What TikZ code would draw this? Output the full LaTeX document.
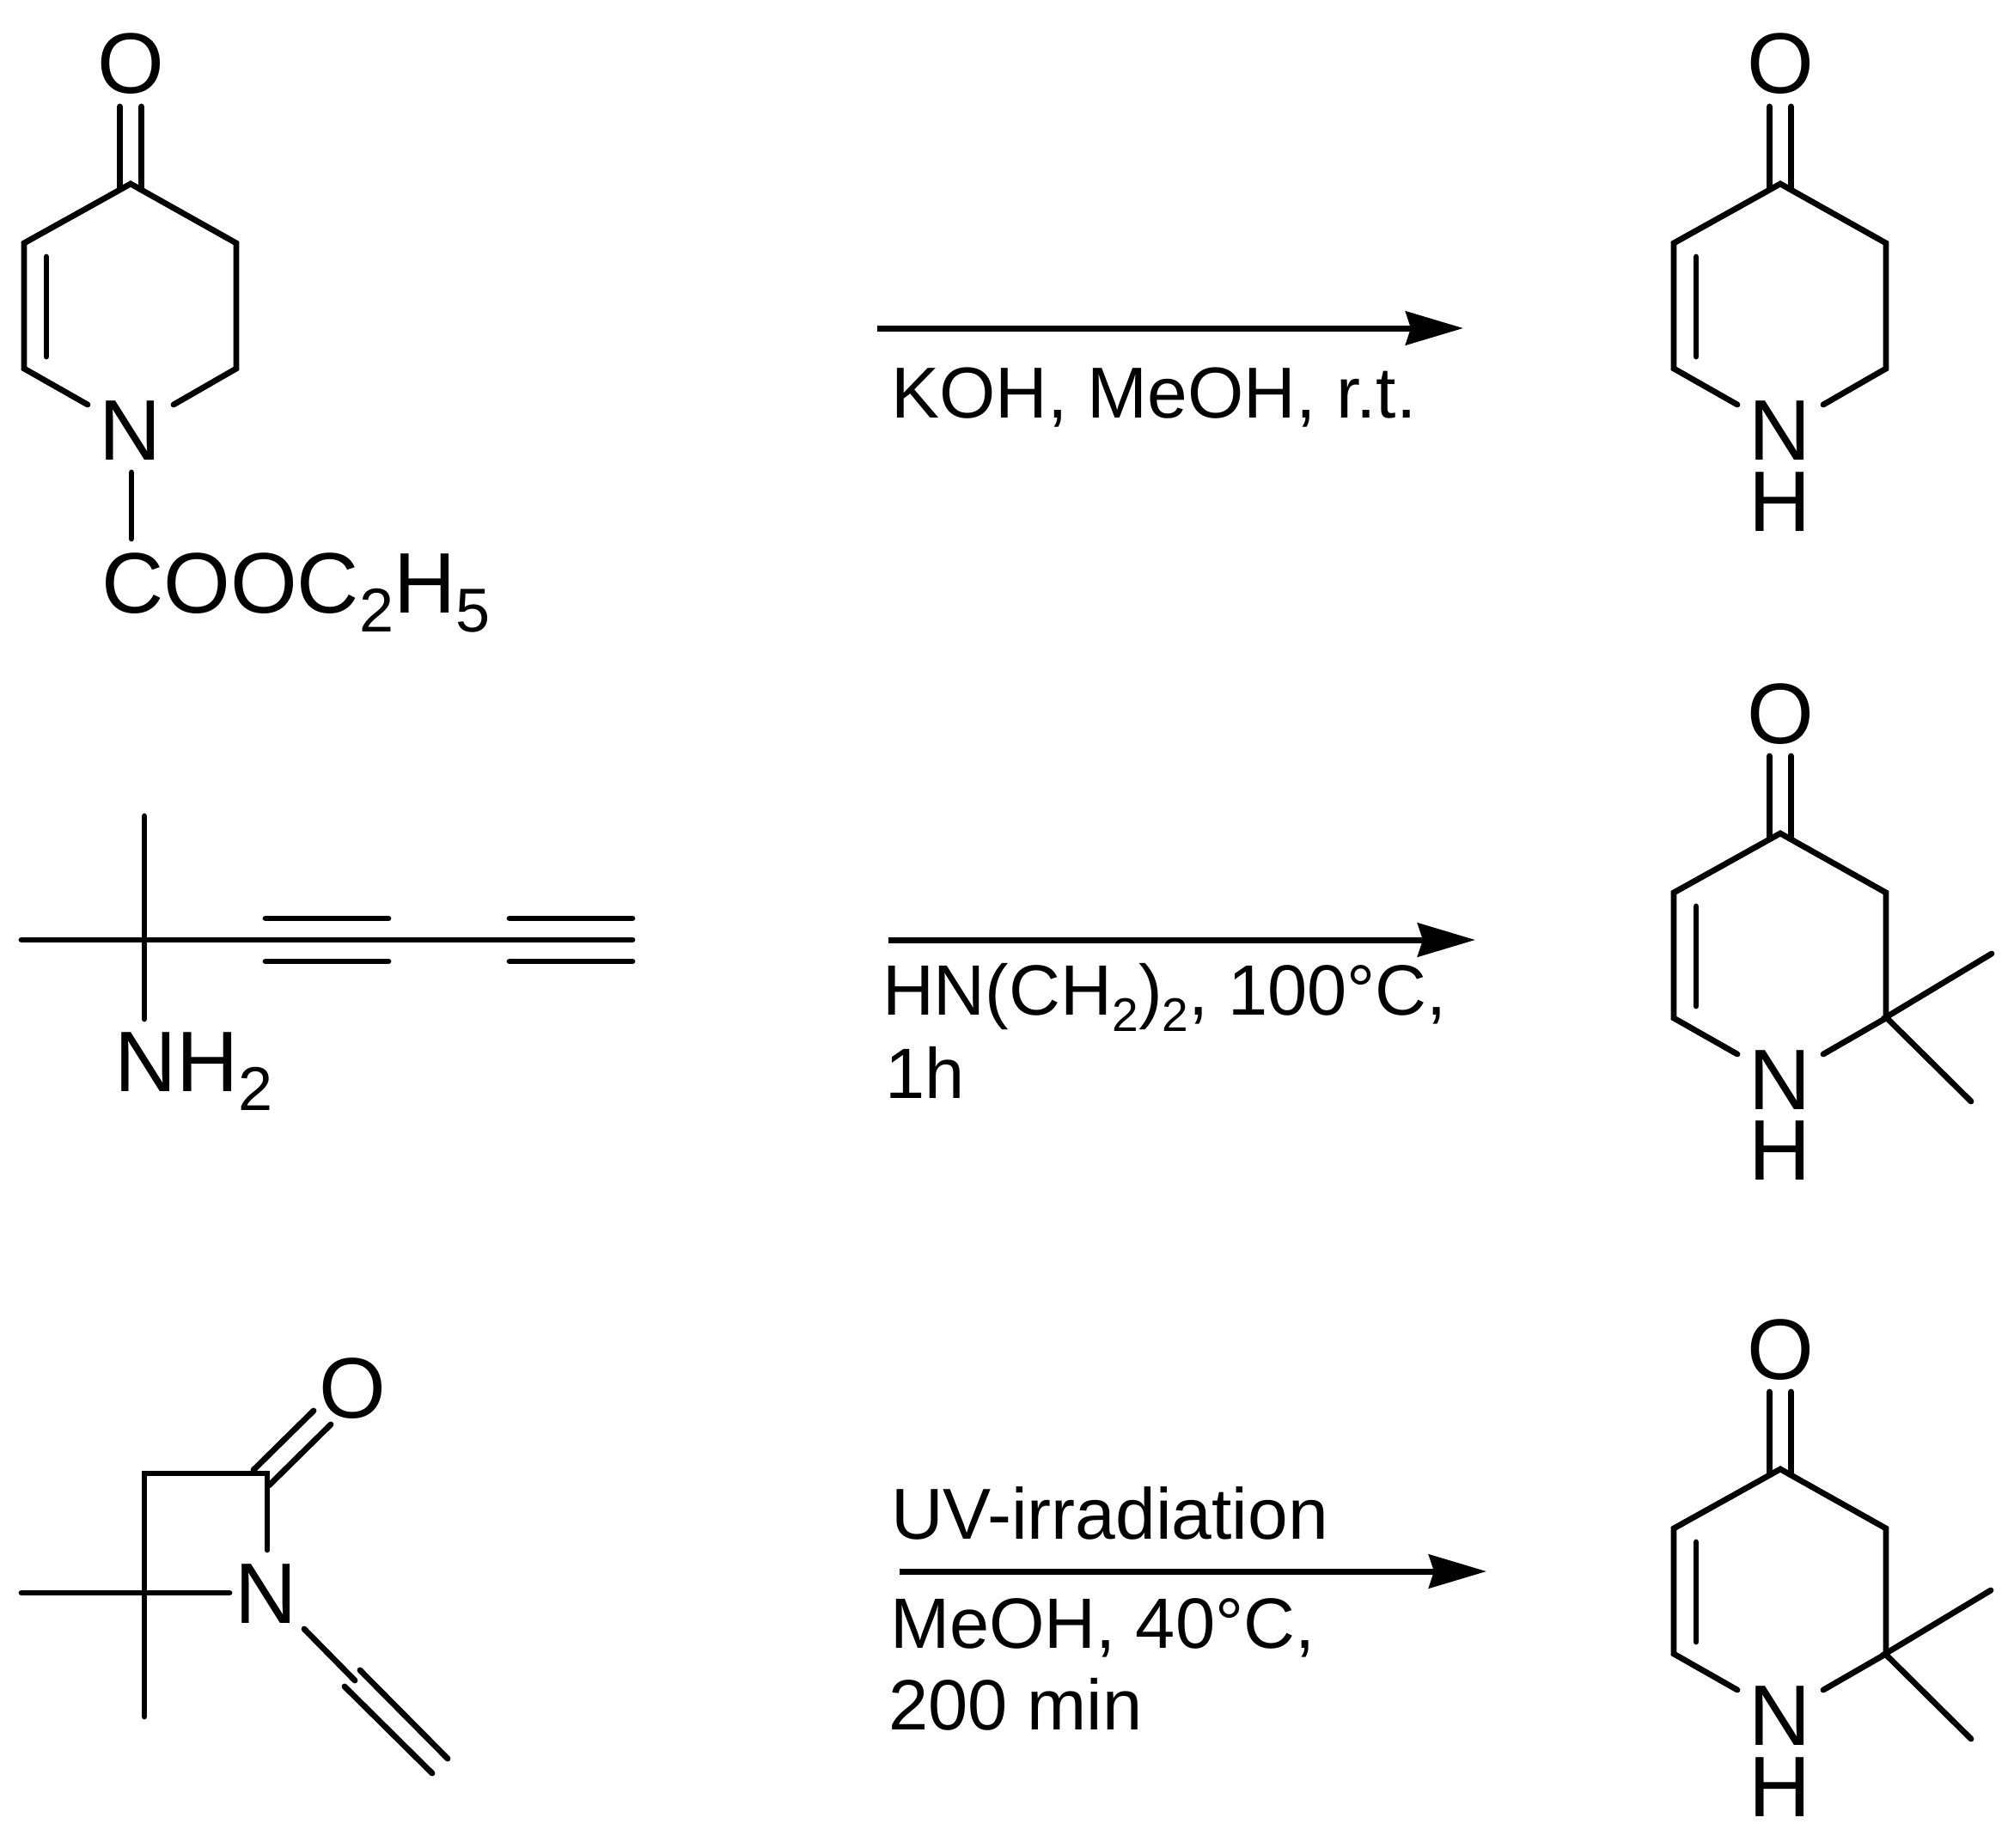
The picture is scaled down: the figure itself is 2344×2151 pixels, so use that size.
\documentclass[tikz,border=0pt]{standalone}
\usepackage{fontspec}
\setmainfont{Liberation Sans}
\usetikzlibrary{arrows.meta}
\newcommand{\subd}[1]{\raisebox{-22pt}{\fontsize{72}{72}\selectfont #1}}
\newcommand{\subl}[1]{\raisebox{-19pt}{\fontsize{55}{55}\selectfont #1}}
\tikzset{
  x=1pt,y=-1pt,
  bond/.style={line width=6.8pt,line cap=round,line join=miter,black},
  atom/.style={inner sep=0pt,outer sep=0pt,font=\fontsize{100}{100}\selectfont,anchor=base},
  formula/.style={atom,anchor=base west},
  cond/.style={inner sep=0pt,outer sep=0pt,font=\fontsize{84}{84}\selectfont,anchor=base west},
  condb/.style={cond,font=\fontsize{83}{83}\selectfont},
  rxn/.style={line width=7pt,black,-{Stealth[length=67pt,width=39pt,inset=6pt]}},
  pyridone/.pic={
    \coordinate (-top) at (0,0);
    \coordinate (-ul) at (-124,69);
    \coordinate (-ll) at (-124,215);
    \coordinate (-ur) at (123,69);
    \coordinate (-lr) at (123,215);
    \coordinate (-nl) at (-50,257);
    \coordinate (-nr) at (50,257);
    \coordinate (-dbla) at (-12.5,-90);
    \coordinate (-dblb) at (-12.5,4);
    \coordinate (-dblc) at (12.5,-90);
    \coordinate (-dbld) at (12.5,4);
    \coordinate (-ia) at (-98,85);
    \coordinate (-ib) at (-98,201);
    \node[atom] (-o) at (0,-105) {O};
    \node[atom] (-n) at (0,321) {N};
    \draw[bond] (-nl) -- (-ll) -- (-ul) -- (-top) -- (-ur) -- (-lr) -- (-nr);
    \draw[bond] (-ia) -- (-ib);
    \draw[bond] (-dbla) -- (-dblb);
    \draw[bond] (-dblc) -- (-dbld);
  }
}
\begin{document}
\begin{tikzpicture}
\useasboundingbox (0,0) rectangle (2344,2151);
\fill[white] (0,0) rectangle (2344,2151);

% reactant 1
\pic (a) at (152,214) {pyridone};
\coordinate (a1) at (153,550);
\coordinate (a2) at (153,627);
\draw[bond] (a1) -- (a2);
\node[formula] (af) at (118,713) {COOC\subd{2}H\subd{5}};

% products
\pic (p) at (2072,214) {pyridone};
\node[atom] (ph) at (2072,618) {H};

\pic (q) at (2072,970) {pyridone};
\node[atom] (qh) at (2072,1373) {H};
\coordinate (qc) at (2195,1184);
\coordinate (qe1) at (2318,1110);
\coordinate (qe2) at (2294,1282);
\draw[bond] (qe1) -- (qc) -- (qe2);

\pic (r) at (2072,1710) {pyridone};
\node[atom] (rh) at (2072,2114) {H};
\coordinate (rc) at (2194,1925);
\coordinate (re1) at (2317,1851);
\coordinate (re2) at (2294,2024);
\draw[bond] (re1) -- (rc) -- (re2);

% reactant 2
\coordinate (b0) at (25,1094);
\coordinate (b1) at (736,1094);
\coordinate (bt) at (168,950);
\coordinate (bb) at (168,1186);
\draw[bond] (b0) -- (b1);
\draw[bond] (bt) -- (bb);
\coordinate (c1a) at (309,1069);
\coordinate (c1b) at (452,1069);
\coordinate (c1c) at (309,1119);
\coordinate (c1d) at (452,1119);
\coordinate (c2a) at (593,1069);
\coordinate (c2b) at (736,1069);
\coordinate (c2c) at (593,1119);
\coordinate (c2d) at (736,1119);
\draw[bond] (c1a) -- (c1b);
\draw[bond] (c1c) -- (c1d);
\draw[bond] (c2a) -- (c2b);
\draw[bond] (c2c) -- (c2d);
\node[formula] (bf) at (133,1270) {NH\subd{2}};

% reactant 3
\node[atom] (co) at (410,1650) {O};
\node[atom] (cn) at (310,1889) {N};
\coordinate (d1) at (168,1998);
\coordinate (d2) at (168,1715);
\coordinate (d3) at (311,1715);
\coordinate (d4) at (311,1804);
\draw[bond] (d1) -- (d2) -- (d3) -- (d4);
\coordinate (d5) at (25,1854);
\coordinate (d6) at (267,1854);
\draw[bond] (d5) -- (d6);
\coordinate (e1) at (295,1711);
\coordinate (e2) at (365,1642);
\coordinate (e3) at (313,1729);
\coordinate (e4) at (385,1658);
\draw[bond] (e1) -- (e2);
\draw[bond] (e3) -- (e4);
\coordinate (f1) at (354,1896);
\coordinate (f2) at (413,1956);
\coordinate (f3) at (419,1944);
\coordinate (f4) at (521,2047);
\coordinate (f5) at (401,1963);
\coordinate (f6) at (503,2064);
\draw[bond] (f1) -- (f2);
\draw[bond] (f3) -- (f4);
\draw[bond] (f5) -- (f6);

% arrows
\coordinate (ar1s) at (1021,382);
\coordinate (ar1e) at (1703,382);
\coordinate (ar2s) at (1034,1094);
\coordinate (ar2e) at (1717,1094);
\coordinate (ar3s) at (1047,1829);
\coordinate (ar3e) at (1730,1829);
\draw[rxn] (ar1s) -- (ar1e);
\draw[rxn] (ar2s) -- (ar2e);
\draw[rxn] (ar3s) -- (ar3e);

% conditions
\node[cond] (t1) at (1037,486) {KOH, MeOH, r.t.};
\node[condb] (t2) at (1027,1181) {HN(CH\subl{2})\subl{2}, 100°C,};
\node[condb] (t3) at (1030,1278) {1h};
\node[cond] (t4) at (1037,1791) {UV-irradiation};
\node[condb] (t5) at (1036,1918) {MeOH, 40°C,};
\node[condb] (t6) at (1034,2013) {200 min};
\end{tikzpicture}
\end{document}
